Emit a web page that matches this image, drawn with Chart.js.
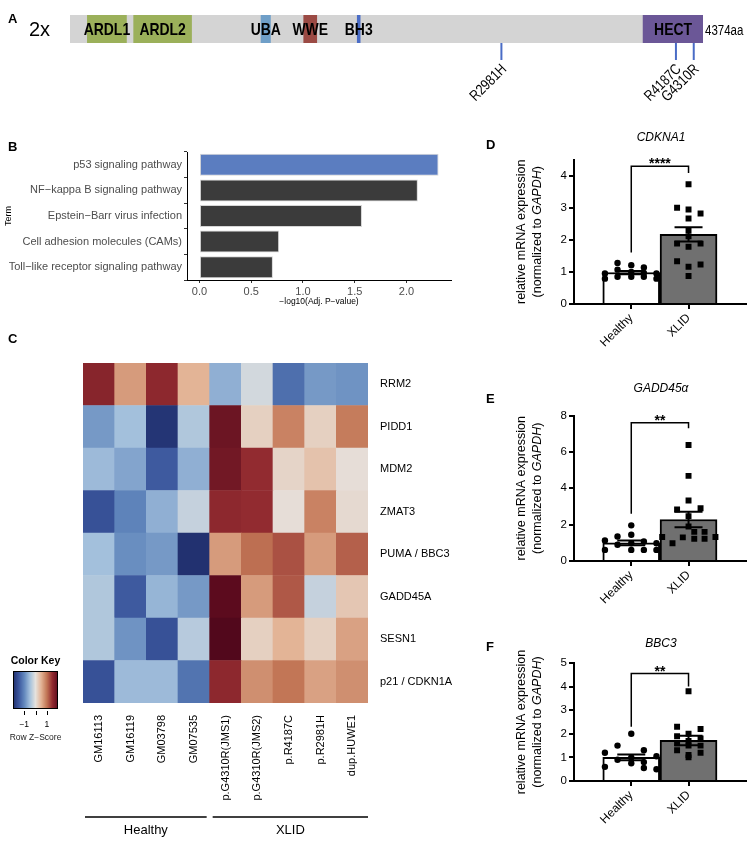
<!DOCTYPE html>
<html><head><meta charset="utf-8">
<script src="https://cdn.jsdelivr.net/npm/chart.js@4.4.1/dist/chart.umd.min.js"></script>
<style>
html,body{margin:0;padding:0;background:#fff;}
body{width:750px;height:852px;position:relative;overflow:hidden;font-family:"Liberation Sans",Arial,sans-serif;}
canvas{position:absolute;}
.lbl{position:absolute;font-weight:bold;font-size:13px;color:#000;line-height:1;}
.ttl{position:absolute;font-style:italic;font-size:12px;transform:translateX(-50%);line-height:1;white-space:nowrap;color:#000;}
</style></head><body>
<canvas id="cA" width="750" height="110" style="left:0;top:0"></canvas>
<canvas id="cB" width="470" height="180" style="left:0;top:130px"></canvas>
<canvas id="cC" width="470" height="512" style="left:0;top:340px"></canvas>
<canvas id="cD" width="270" height="224" style="left:480px;top:128px"></canvas>
<canvas id="cE" width="270" height="230" style="left:480px;top:380px"></canvas>
<canvas id="cF" width="270" height="222" style="left:480px;top:630px"></canvas>
<div class="lbl" style="left:8px;top:12px">A</div>
<div class="lbl" style="left:8px;top:140px">B</div>
<div class="lbl" style="left:8px;top:332px">C</div>
<div class="lbl" style="left:486px;top:138px">D</div>
<div class="lbl" style="left:486px;top:392px">E</div>
<div class="lbl" style="left:486px;top:640px">F</div>
<div class="ttl" style="left:661px;top:131px">CDKNA1</div>
<div class="ttl" style="left:661px;top:382px">GADD45α</div>
<div class="ttl" style="left:661px;top:637px">BBC3</div>
<script>
// ---------------- DATA ----------------
// Panel A: HUWE1 protein domains (aa)
const proteinLength = 4374;
const domainNames = ['ARDL1','ARDL2','UBA','WWE','BH3','HECT'];
const domainStart = [120, 440, 1320, 1615, 1985, 3960];
const domainEnd   = [390, 840, 1385, 1705, 2005, 4374];
const mutationNames = ['R2981H','R4187C','G4310R'];
const mutationPos   = [2981, 4187, 4310];

// Panel B: KEGG enrichment
const keggTerms = ['p53 signaling pathway','NF\u2212kappa B signaling pathway','Epstein\u2212Barr virus infection','Cell adhesion molecules (CAMs)','Toll\u2212like receptor signaling pathway'];
const keggScore = [2.31, 2.11, 1.57, 0.77, 0.71];
const keggTicks = [0, 0.5, 1.0, 1.5, 2.0];

// Panel C: heatmap (row z-scores)
const samples = ['GM16113','GM16119','GM03798','GM07535','p.G4310R(JMS1)','p.G4310R(JMS2)','p.R4187C','p.R2981H','dup.HUWE1'];
const genes = ['RRM2','PIDD1','MDM2','ZMAT3','PUMA / BBC3','GADD45A','SESN1','p21 / CDKN1A'];
const zRRM2    = [1.6, 0.7, 1.55, 0.5, -0.65, -0.15, -1.25, -0.85, -0.9];
const zPIDD1   = [-0.85, -0.5, -1.9, -0.4, 1.85, 0.2, 0.9, 0.2, 0.95];
const zMDM2    = [-0.55, -0.75, -1.45, -0.65, 1.8, 1.5, 0.15, 0.35, 0.05];
const zZMAT3   = [-1.55, -1.05, -0.65, -0.25, 1.55, 1.5, 0.05, 0.9, 0.1];
const zPUMA    = [-0.5, -0.95, -0.85, -1.95, 0.7, 1.05, 1.25, 0.7, 1.15];
const zGADD45A = [-0.4, -1.45, -0.6, -0.85, 2.0, 0.7, 1.2, -0.25, 0.3];
const zSESN1   = [-0.4, -0.9, -1.55, -0.35, 2.2, 0.2, 0.5, 0.2, 0.65];
const zP21     = [-1.55, -0.55, -0.55, -1.2, 1.55, 0.8, 1.0, 0.65, 0.8];
const groupNames = ['Healthy','XLID'];
const groupSizes = [4, 5];
const keyTicks = [-1, 0, 1];
const keyTickLabels = ['\u22121', '', '1'];

// Panels D-F: qPCR
const qpcrGroups = ['Healthy','XLID'];
const cdkn1aHealthy = [1.28,1.21,0.95,1.07,1.14,1.00,0.95,0.85,0.85,0.85,0.79,0.79,0.97];
const cdkn1aHealthyJitter = [-0.24,0,-0.46,-0.24,0.22,0,0.44,-0.24,0,0.22,0.44,-0.46,0.22];
const cdkn1aXlid = [3.73,3.00,2.94,2.82,2.66,2.30,2.11,1.88,1.78,1.88,1.33,1.23,1.16,0.87];
const cdkn1aXlidJitter = [0,-0.2,0,0.21,0,0,0,-0.2,0,0.21,-0.2,0.21,0,0];
const cdkn1aMean = [0.98, 2.17];
const cdkn1aSem = [0.05, 0.22];
const cdkn1aBracket = [4.29, 1.6, 4.08];

const gadd45aHealthy = [1.13,0.61,1.35,0.89,1.96,1.44,0.98,0.61,1.07,0.61,0.98,0.61];
const gadd45aHealthyJitter = [-0.46,-0.46,-0.24,-0.24,0,0,0,0,0.22,0.22,0.44,0.44];
const gadd45aXlid = [6.38,4.68,3.33,2.83,2.9,2.46,1.9,1.6,1.6,1.32,1.3,1.22,1.22,1.32,0.98];
const gadd45aXlidJitter = [0,0,0,-0.2,0.21,0,0,0.1,0.28,-0.46,-0.1,0.1,0.28,0.47,-0.28];
const gadd45aMean = [1.0, 2.28];
const gadd45aSem = [0.13, 0.43];
const gadd45aBracket = [7.6, 2.6, 7.3];

const bbc3Healthy = [2.0,1.5,1.3,1.2,1.05,1.0,0.9,0.8,0.75,0.6,0.5,0.55];
const bbc3HealthyJitter = [0,-0.24,0.22,-0.46,0.44,0,-0.24,0.22,0,-0.46,0.44,0.22];
const bbc3Xlid = [3.8,2.3,2.2,2.0,1.9,1.8,1.7,1.6,1.5,1.5,1.3,1.2,1.1,1.0];
const bbc3XlidJitter = [0,-0.2,0.21,0,-0.2,0.21,0,-0.2,0.21,0,-0.2,0.21,0,0];
const bbc3Mean = [1.0, 1.72];
const bbc3Sem = [0.12, 0.2];
const bbc3Bracket = [4.55, 2.3, 4.0];

// ---------------- SETUP ----------------
const FF = '"Liberation Sans", Arial, sans-serif';
Chart.defaults.font.family = FF;
Chart.defaults.animation = false;
Chart.defaults.responsive = false;
Chart.defaults.devicePixelRatio = 1;
Chart.defaults.plugins.legend.display = false;
Chart.defaults.plugins.tooltip.enabled = false;
Chart.defaults.color = '#000';

function narrowText(ctx, t, x, y, font, align, rot) {
  ctx.save(); ctx.translate(x, y); if (rot) ctx.rotate(rot); ctx.scale(0.82, 1);
  ctx.font = font; ctx.textAlign = align; ctx.fillText(t, 0, 0); ctx.restore();
}

// ---------------- PANEL A ----------------
const domainColors = ['#9bb05a','#9bb05a','#6f9fc8','#9b4a44','#4a6cc6','#6b5797'];
const protPlugin = {
  id: 'prot',
  afterDatasetsDraw(chart) {
    const { ctx, chartArea: ca, scales: { x } } = chart;
    const midY = (ca.top + ca.bottom) / 2;
    ctx.save();
    ctx.fillStyle = '#000'; ctx.textBaseline = 'middle';
    domainNames.forEach((n, i) => {
      const cx = (x.getPixelForValue(domainStart[i]) + x.getPixelForValue(domainEnd[i])) / 2;
      narrowText(ctx, n, cx, midY + 1, 'bold 17px ' + FF, 'center');
    });
    ctx.font = '20px ' + FF; ctx.textAlign = 'left';
    ctx.fillText('2x', 29, midY + 1);
    narrowText(ctx, proteinLength + 'aa', x.getPixelForValue(proteinLength) + 2, midY + 2, '14px ' + FF, 'left');
    ctx.strokeStyle = '#4a6cc6'; ctx.lineWidth = 2;
    mutationPos.forEach((p, i) => {
      const px = x.getPixelForValue(p);
      ctx.beginPath(); ctx.moveTo(px, ca.bottom); ctx.lineTo(px, ca.bottom + 17); ctx.stroke();
      narrowText(ctx, mutationNames[i], px + 3, ca.bottom + 24, '15px ' + FF, 'right', -Math.PI / 4);
    });
    ctx.restore();
  }
};
new Chart(document.getElementById('cA'), {
  type: 'bar',
  data: {
    labels: ['HUWE1'],
    datasets: [{ data: [[0, proteinLength]], backgroundColor: '#d4d4d4', grouped: false, order: 10 }]
      .concat(domainNames.map((n, i) => ({ data: [[domainStart[i], domainEnd[i]]], backgroundColor: domainColors[i], grouped: false, order: 1 })))
  },
  options: {
    indexAxis: 'y',
    layout: { padding: { left: 70, right: 47, top: 15, bottom: 67 } },
    datasets: { bar: { barPercentage: 1, categoryPercentage: 1, borderWidth: 0 } },
    scales: { x: { display: false, min: 0, max: proteinLength }, y: { display: false } }
  },
  plugins: [protPlugin]
});

// ---------------- PANEL B ----------------
new Chart(document.getElementById('cB'), {
  type: 'bar',
  data: {
    labels: keggTerms,
    datasets: [{
      data: keggScore,
      backgroundColor: keggScore.map((v, i) => i === 0 ? '#5b7dc0' : '#3b3b3b'),
      borderColor: '#d6d6d6', borderWidth: 1, borderSkipped: false,
      barPercentage: 0.86, categoryPercentage: 1
    }]
  },
  options: {
    indexAxis: 'y',
    layout: { padding: { left: 0, right: 19, top: 22, bottom: 0 } },
    scales: {
      x: {
        min: -0.12, max: 2.43,
        afterBuildTicks: s => { s.ticks = keggTicks.map(v => ({ value: v })); },
        ticks: { callback: v => v.toFixed(1), font: { size: 11 }, color: '#4d4d4d', padding: 2, maxRotation: 0 },
        grid: { drawOnChartArea: false, drawTicks: true, tickLength: 3, color: '#333' },
        border: { display: true, color: '#000', width: 1 },
        title: { display: true, text: '\u2212log10(Adj. P\u2212value)', font: { size: 8.5 }, color: '#000', padding: { top: 2, bottom: 3 } },
        afterFit: s => { s.height = 30; }
      },
      y: {
        ticks: { font: { size: 11 }, color: '#4d4d4d', padding: 2 },
        grid: { drawOnChartArea: false, drawTicks: true, tickLength: 3, color: '#333' },
        border: { display: true, color: '#000', width: 1 },
        title: { display: true, text: 'Term', font: { size: 9 }, color: '#000', padding: { top: 3, bottom: 0 } },
        afterFit: s => { s.width = 187; }
      }
    }
  }
});

// ---------------- PANEL C ----------------
const zRows = [zRRM2, zPIDD1, zMDM2, zZMAT3, zPUMA, zGADD45A, zSESN1, zP21];
const cmapStops = [[-2,'#1f2d6b'],[-1.5,'#3a559c'],[-1,'#6288bd'],[-0.5,'#a3c0dc'],[0,'#e6e2de'],[0.5,'#e3b496'],[1,'#c27656'],[1.5,'#922b30'],[2,'#5c0b1e'],[2.5,'#44041a']];
function hex2rgb(h) { return [parseInt(h.slice(1,3),16), parseInt(h.slice(3,5),16), parseInt(h.slice(5,7),16)]; }
function zColor(z) {
  const s = cmapStops;
  if (z <= s[0][0]) return s[0][1];
  if (z >= s[s.length-1][0]) return s[s.length-1][1];
  for (let i = 0; i < s.length - 1; i++) {
    if (z >= s[i][0] && z <= s[i+1][0]) {
      const t = (z - s[i][0]) / (s[i+1][0] - s[i][0]);
      const a = hex2rgb(s[i][1]), b = hex2rgb(s[i+1][1]);
      const c = a.map((v, k) => Math.round(v + (b[k] - v) * t));
      return 'rgb(' + c.join(',') + ')';
    }
  }
}
const heatPlugin = {
  id: 'heatExtra',
  afterDraw(chart) {
    const { ctx, scales: { x } } = chart;
    const off = 340;
    ctx.save();
    const half = (x.getPixelForValue(1) - x.getPixelForValue(0)) / 2;
    let start = 0;
    ctx.strokeStyle = '#000'; ctx.lineWidth = 1.5; ctx.fillStyle = '#000';
    groupNames.forEach((g, gi) => {
      const end = start + groupSizes[gi] - 1;
      const x0 = x.getPixelForValue(start) - half + (gi === 0 ? 2 : 3);
      const x1 = x.getPixelForValue(end) + half - (gi === 0 ? 3 : 0);
      ctx.beginPath(); ctx.moveTo(x0, 817 - off); ctx.lineTo(x1, 817 - off); ctx.stroke();
      ctx.font = '13px ' + FF; ctx.textAlign = 'center'; ctx.textBaseline = 'middle';
      ctx.fillText(g, (x0 + x1) / 2, 830 - off);
      start = end + 1;
    });
    const kx0 = 13, kx1 = 58, ky0 = 671 - off, ky1 = 709 - off, kmin = -2, kmax = 2;
    for (let px = kx0; px < kx1; px++) {
      ctx.fillStyle = zColor(kmin + (kmax - kmin) * (px + 0.5 - kx0) / (kx1 - kx0));
      ctx.fillRect(px, ky0, 1, ky1 - ky0);
    }
    ctx.strokeStyle = '#000'; ctx.lineWidth = 1;
    ctx.strokeRect(kx0 + 0.5, ky0 + 0.5, kx1 - kx0 - 1, ky1 - ky0 - 1);
    ctx.fillStyle = '#000';
    ctx.font = 'bold 10.5px ' + FF; ctx.textAlign = 'center'; ctx.textBaseline = 'middle';
    ctx.fillText('Color Key', 35.5, 661 - off);
    ctx.font = '8.5px ' + FF;
    keyTicks.forEach((v, i) => {
      const px = kx0 + (v - kmin) / (kmax - kmin) * (kx1 - kx0);
      ctx.beginPath(); ctx.moveTo(Math.round(px) + 0.5, ky1 + 2); ctx.lineTo(Math.round(px) + 0.5, ky1 + 6); ctx.stroke();
      if (keyTickLabels[i]) ctx.fillText(keyTickLabels[i], px, 725 - off);
    });
    ctx.fillStyle = '#222';
    ctx.fillText('Row Z\u2212Score', 35.5, 738 - off);
    ctx.restore();
  }
};
new Chart(document.getElementById('cC'), {
  type: 'bar',
  data: {
    labels: samples,
    datasets: zRows.slice().reverse().map((row, i) => ({
      label: genes[genes.length - 1 - i],
      data: samples.map(() => 1),
      backgroundColor: row.map(zColor),
      borderWidth: 0,
      barPercentage: 1, categoryPercentage: 1
    }))
  },
  options: {
    layout: { padding: { left: 83, right: 0, top: 23, bottom: 0 } },
    scales: {
      x: {
        stacked: true,
        ticks: { font: { size: 11 }, color: '#000', padding: 12, minRotation: 90, maxRotation: 90, autoSkip: false },
        grid: { display: false, drawTicks: false },
        border: { display: false },
        afterFit: s => { s.height = 149; }
      },
      y: {
        stacked: true, position: 'right', min: 0, max: genes.length,
        afterBuildTicks: s => { s.ticks = genes.map((g, i) => ({ value: i + 0.5 })); },
        ticks: { callback: v => genes[genes.length - 1 - Math.floor(v)], font: { size: 11 }, color: '#000', padding: 12 },
        grid: { display: false, drawTicks: false },
        border: { display: false },
        afterFit: s => { s.width = 102; }
      }
    }
  },
  plugins: [heatPlugin]
});

// ---------------- PANELS D-F ----------------
function qpcrPanel(id, o) {
  const extra = {
    id: 'qpcrExtra',
    afterDatasetsDraw(chart) {
      const { ctx, chartArea: ca, scales: { x, y } } = chart;
      ctx.save();
      ctx.strokeStyle = '#000'; ctx.lineWidth = 2;
      o.mean.forEach((m, i) => {
        const px = x.getPixelForValue(i);
        const yt = y.getPixelForValue(m + o.sem[i]), yb = y.getPixelForValue(m - o.sem[i]);
        ctx.beginPath();
        ctx.moveTo(px, yt); ctx.lineTo(px, yb);
        ctx.moveTo(px - 14, yt); ctx.lineTo(px + 14, yt);
        ctx.moveTo(px - 14, yb); ctx.lineTo(px + 14, yb);
        ctx.stroke();
      });
      const x0 = x.getPixelForValue(0), x1 = x.getPixelForValue(1);
      const yb = y.getPixelForValue(o.bracket[0]);
      ctx.lineWidth = 1.5;
      ctx.beginPath();
      ctx.moveTo(x0, y.getPixelForValue(o.bracket[1])); ctx.lineTo(x0, yb);
      ctx.lineTo(x1, yb); ctx.lineTo(x1, y.getPixelForValue(o.bracket[2]));
      ctx.stroke();
      ctx.fillStyle = '#000'; ctx.font = 'bold 14px ' + FF; ctx.textAlign = 'center'; ctx.textBaseline = 'alphabetic';
      ctx.fillText(o.stars, (x0 + x1) / 2, yb + 2);
      const my = (ca.top + ca.bottom) / 2;
      ctx.save(); ctx.translate(42, my); ctx.rotate(-Math.PI / 2);
      ctx.font = '12.5px ' + FF; ctx.textAlign = 'center'; ctx.textBaseline = 'middle';
      ctx.fillText('relative mRNA expression', 0, 0);
      ctx.restore();
      ctx.save(); ctx.translate(58, my); ctx.rotate(-Math.PI / 2);
      ctx.textBaseline = 'middle'; ctx.textAlign = 'left';
      const parts = [['(normalized to ', '12.5px ' + FF], ['GAPDH', 'italic 12.5px ' + FF], [')', '12.5px ' + FF]];
      let tot = 0;
      parts.forEach(p => { ctx.font = p[1]; tot += ctx.measureText(p[0]).width; });
      let cx = -tot / 2;
      parts.forEach(p => { ctx.font = p[1]; ctx.fillText(p[0], cx, 0); cx += ctx.measureText(p[0]).width; });
      ctx.restore();
      ctx.restore();
    }
  };
  new Chart(document.getElementById(id), {
    type: 'bar',
    data: {
      datasets: [
        { type: 'bar', data: o.mean.map((m, i) => ({ x: i, y: m })), backgroundColor: ['#ffffff', '#707070'], borderColor: '#000', borderWidth: 2, barThickness: 57, order: 3 },
        { type: 'scatter', data: o.healthy.map((v, i) => ({ x: 0 + o.hJit[i], y: v })), pointStyle: 'circle', radius: 3.2, backgroundColor: '#000', borderColor: '#000', borderWidth: 0, order: 1 },
        { type: 'scatter', data: o.xlid.map((v, i) => ({ x: 1 + o.xJit[i], y: v })), pointStyle: 'rect', radius: 4.2, backgroundColor: '#000', borderColor: '#000', borderWidth: 0, order: 1 }
      ]
    },
    options: {
      layout: { padding: { left: 0, right: 2, top: o.padTop, bottom: 0 } },
      scales: {
        x: {
          type: 'linear', min: -1, max: 2, offset: false,
          afterBuildTicks: s => { s.ticks = qpcrGroups.map((g, i) => ({ value: i })); },
          ticks: { callback: v => qpcrGroups[v], minRotation: 45, maxRotation: 45, font: { size: 12 }, color: '#000', padding: 2 },
          grid: { offset: false, drawOnChartArea: false, drawTicks: true, tickLength: 5, lineWidth: 2, color: '#000' },
          border: { display: true, width: 2, color: '#000' },
          afterFit: s => { s.height = o.xH; }
        },
        y: {
          min: 0, max: o.yMax,
          ticks: { stepSize: o.yStep, includeBounds: false, font: { size: 11.5 }, color: '#000', padding: 2 },
          grid: { drawOnChartArea: false, drawTicks: true, tickLength: 5, lineWidth: 2, color: '#000' },
          border: { display: true, width: 2, color: '#000' },
          afterFit: s => { s.width = 94; }
        }
      }
    },
    plugins: [extra]
  });
}
qpcrPanel('cD', { mean: cdkn1aMean, sem: cdkn1aSem, healthy: cdkn1aHealthy, hJit: cdkn1aHealthyJitter, xlid: cdkn1aXlid, xJit: cdkn1aXlidJitter, bracket: cdkn1aBracket, stars: '****', yMax: 4.5, yStep: 1, padTop: 31.5, xH: 48 });
qpcrPanel('cE', { mean: gadd45aMean, sem: gadd45aSem, healthy: gadd45aHealthy, hJit: gadd45aHealthyJitter, xlid: gadd45aXlid, xJit: gadd45aXlidJitter, bracket: gadd45aBracket, stars: '**', yMax: 8, yStep: 2, padTop: 35.5, xH: 49 });
qpcrPanel('cF', { mean: bbc3Mean, sem: bbc3Sem, healthy: bbc3Healthy, hJit: bbc3HealthyJitter, xlid: bbc3Xlid, xJit: bbc3XlidJitter, bracket: bbc3Bracket, stars: '**', yMax: 5, yStep: 1, padTop: 33, xH: 71 });
</script>
</body></html>
